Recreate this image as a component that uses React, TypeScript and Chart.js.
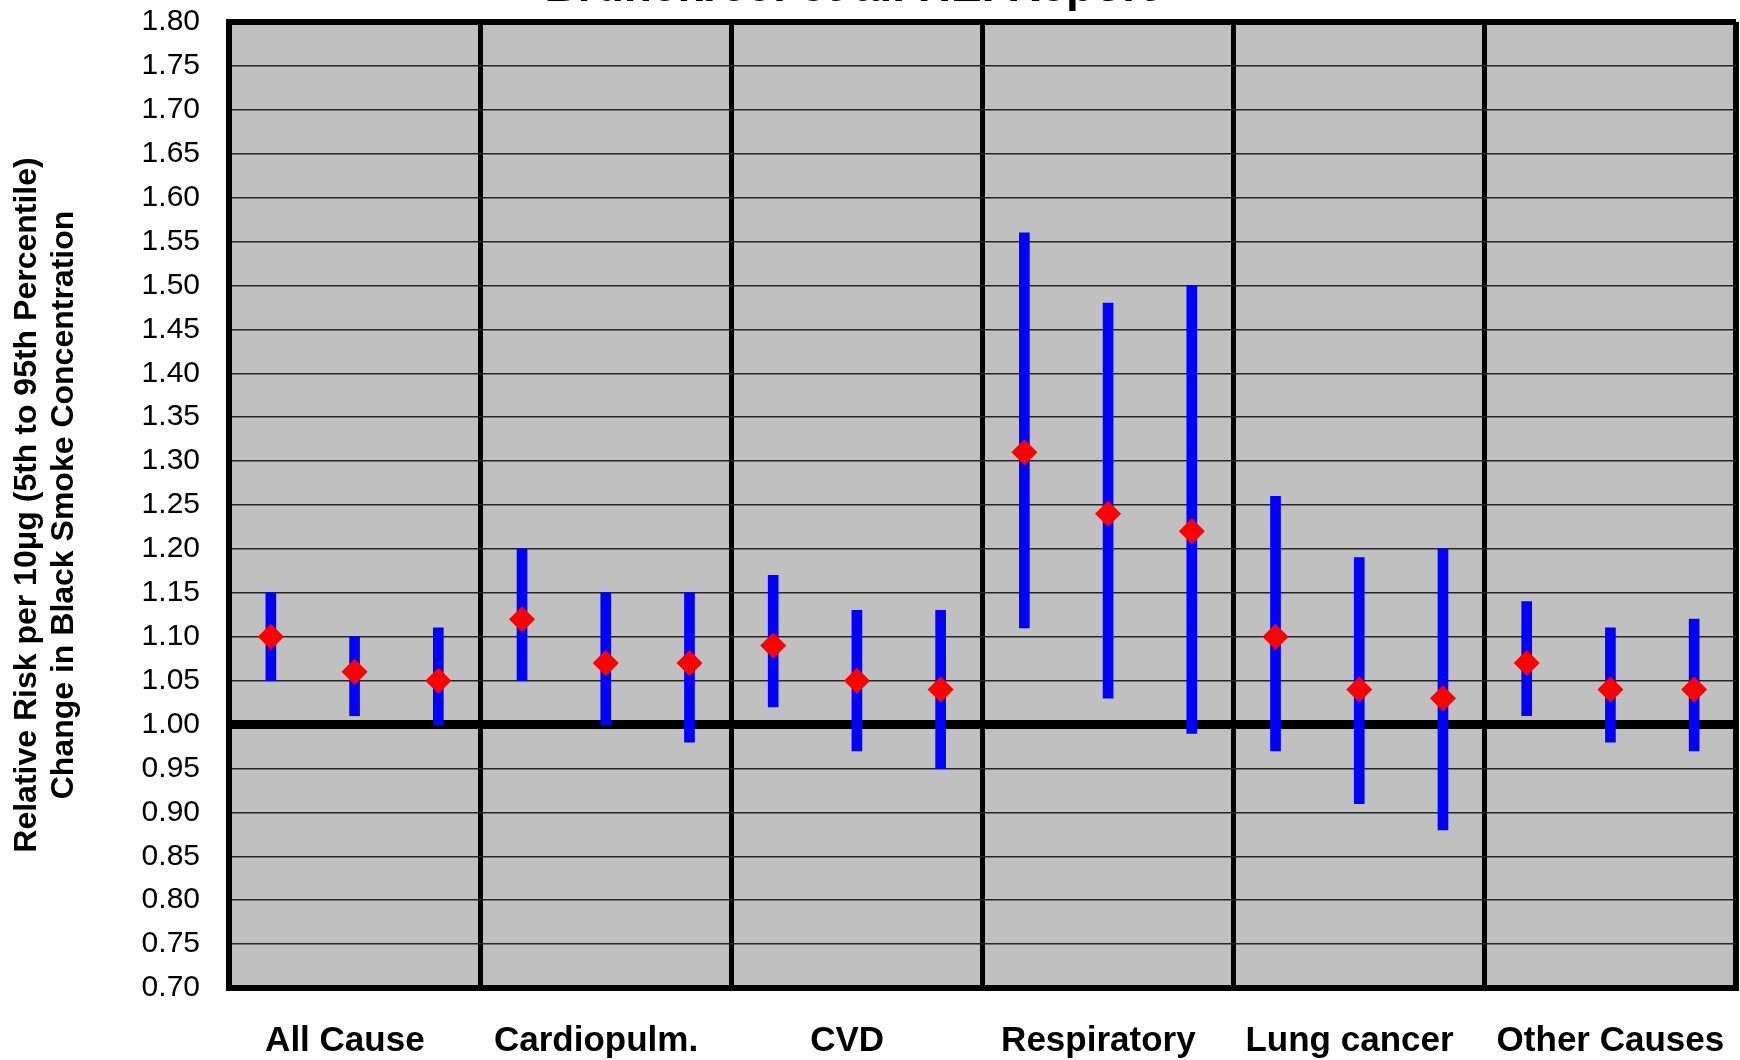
import React, { useEffect, useRef } from "react";
import { Chart, registerables } from "chart.js";

Chart.register(...registerables);

// ---- data ----
const categories = ["All Cause  ", "Cardiopulm.  ", "CVD  ", "Respiratory  ", "Lung cancer  ", "Other Causes"];
const pointsPerCategory = 3;
const estimates = [1.10, 1.06, 1.05, 1.12, 1.07, 1.07, 1.09, 1.05, 1.04, 1.31, 1.24, 1.22, 1.10, 1.04, 1.03, 1.07, 1.04, 1.04];
const lowerCI = [1.05, 1.01, 1.00, 1.05, 1.00, 0.98, 1.02, 0.97, 0.95, 1.11, 1.03, 0.99, 0.97, 0.91, 0.88, 1.01, 0.98, 0.97];
const upperCI = [1.15, 1.10, 1.11, 1.20, 1.15, 1.15, 1.17, 1.13, 1.13, 1.56, 1.48, 1.50, 1.26, 1.19, 1.20, 1.14, 1.11, 1.12];
const yMin = 0.7;
const yMax = 1.8;
const yStep = 0.05;
const referenceValue = 1.0;
const titleText = "Brunekreef et al. HEI Report";
const yTitle = ["Relative Risk per 10\u03BCg (5th to 95th Percentile)", "Change in Black Smoke Concentration"];

const FONT = "'Liberation Sans', Arial, Helvetica, sans-serif";

export default function App() {
  const ref = useRef<HTMLCanvasElement | null>(null);

  useEffect(() => {
    if (!ref.current) return;
    const nGroups = categories.length;
    const xMax = nGroups * pointsPerCategory;

    const barData = estimates.map((_, i) => ({ x: i + 0.5, y: [lowerCI[i], upperCI[i]] }));
    const pointData = estimates.map((v, i) => ({ x: i + 0.5, y: v }));

    const bgPlugin = {
      id: "plotBg",
      beforeDraw(chart: any) {
        const { ctx, chartArea } = chart;
        const { left, top, right, bottom } = chartArea;
        ctx.save();
        ctx.fillStyle = "#C0C0C0";
        ctx.fillRect(left, top, right - left, bottom - top);
        ctx.restore();
      },
    };

    const topTitlePlugin = {
      id: "topTitle",
      afterDraw(chart: any) {
        const { ctx } = chart;
        ctx.save();
        ctx.font = `bold 46px ${FONT}`;
        ctx.fillStyle = "#000";
        ctx.textAlign = "center";
        ctx.textBaseline = "alphabetic";
        ctx.fillText(titleText, 850, 1);
        ctx.restore();
      },
    };

    const isMultiple = (v: number, m: number) => {
      const r = v / m;
      return Math.abs(r - Math.round(r)) < 1e-6;
    };

    const chart = new Chart(ref.current, {
      type: "bar",
      data: {
        datasets: [
          {
            type: "line",
            data: pointData as any,
            showLine: false,
            pointStyle: "rectRot",
            pointRadius: 13,
            pointHoverRadius: 13,
            pointBackgroundColor: "#FF0000",
            pointBorderWidth: 0,
            borderWidth: 0,
            clip: false,
            order: 1,
          } as any,
          {
            type: "bar",
            data: barData as any,
            backgroundColor: "#0000FF",
            borderWidth: 0,
            barThickness: 10,
            order: 2,
          } as any,
        ],
      },
      plugins: [bgPlugin, topTitlePlugin],
      options: {
        animation: false,
        responsive: false,
        events: [],
        layout: { autoPadding: false, padding: { top: 22, right: 4, left: 0, bottom: 0 } },
        plugins: {
          legend: { display: false },
          tooltip: { enabled: false },
          title: { display: false },
        },
        scales: {
          x: {
            type: "linear",
            min: 0,
            max: xMax,
            offset: false,
            afterFit: (scale: any) => {
              scale.height = 72;
              scale.paddingLeft = 0;
              scale.paddingRight = 0;
            },
            grid: {
              offset: false,
              drawTicks: false,
              color: (ctx: any) =>
                ctx.tick && isMultiple(ctx.tick.value, pointsPerCategory) ? "#000" : "rgba(0,0,0,0)",
              lineWidth: (ctx: any) => {
                if (!ctx.tick) return 0;
                const v = ctx.tick.value;
                if (Math.abs(v - xMax) < 1e-6 || Math.abs(v) < 1e-6) return 6;
                return isMultiple(v, pointsPerCategory) ? 5 : 0;
              },
            },
            border: { display: true, color: "#000", width: 6 },
            ticks: {
              stepSize: pointsPerCategory / 2,
              autoSkip: false,
              maxRotation: 0,
              minRotation: 0,
              padding: 32,
              color: "#000",
              font: { family: FONT, size: 35, weight: "bold" },
              callback: (value: any) => {
                const k = (Number(value) - pointsPerCategory / 2) / pointsPerCategory;
                if (Math.abs(k - Math.round(k)) < 1e-6) {
                  const idx = Math.round(k);
                  if (idx >= 0 && idx < categories.length) return categories[idx];
                }
                return "";
              },
            },
          },
          y: {
            type: "linear",
            min: yMin,
            max: yMax,
            beginAtZero: false,
            afterFit: (scale: any) => {
              scale.width = 229;
              scale.paddingTop = 0;
              scale.paddingBottom = 0;
            },
            grid: {
              drawTicks: false,
              color: (ctx: any) => {
                if (!ctx.tick) return "#222";
                const v = ctx.tick.value;
                if (Math.abs(v - referenceValue) < 1e-6 || Math.abs(v - yMax) < 1e-6) return "#000";
                return "#262626";
              },
              lineWidth: (ctx: any) => {
                if (!ctx.tick) return 1.5;
                const v = ctx.tick.value;
                if (Math.abs(v - referenceValue) < 1e-6) return 9;
                if (Math.abs(v - yMax) < 1e-6) return 6;
                return 1.5;
              },
            },
            border: { display: true, color: "#000", width: 6 },
            ticks: {
              stepSize: yStep,
              padding: 29,
              color: "#000",
              font: { family: FONT, size: 30 },
              callback: (value: any) => Number(value).toFixed(2),
            },
            title: {
              display: true,
              text: yTitle,
              color: "#000",
              font: { family: FONT, size: 32, weight: "bold", lineHeight: 37 / 32 },
              padding: { top: 9, bottom: 0 },
            },
          },
        },
      } as any,
    });

    return () => chart.destroy();
  }, []);

  return (
    <div style={{ position: "absolute", left: 0, top: 0, width: 1740, height: 1060, background: "#fff", overflow: "hidden" }}>
      <canvas ref={ref} width={1740} height={1060} style={{ display: "block", width: 1740, height: 1060 }} />
    </div>
  );
}
